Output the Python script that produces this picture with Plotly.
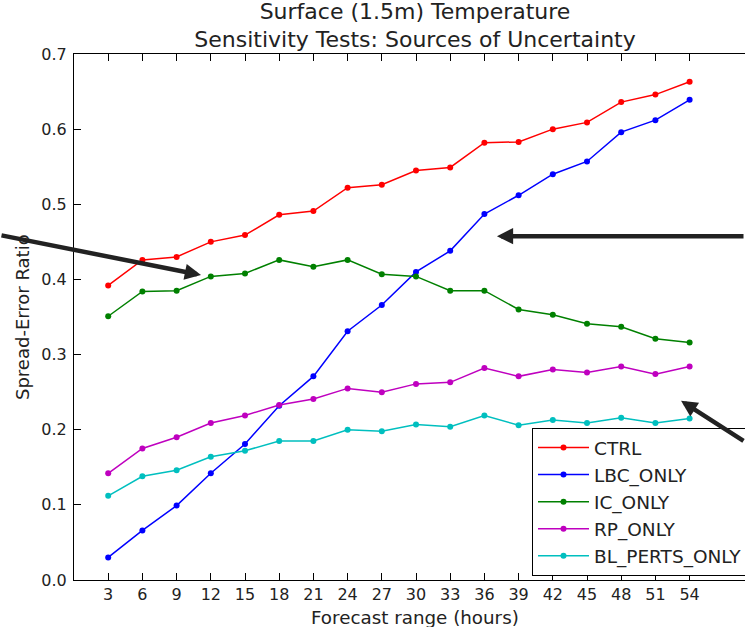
import plotly.graph_objects as go

# Forecast lead times (hours)
lead_hours = [3, 6, 9, 12, 15, 18, 21, 24, 27, 30, 33, 36, 39, 42, 45, 48, 51, 54]

# Spread-error ratio for each sensitivity experiment
ctrl = [0.392, 0.426, 0.430, 0.450, 0.459, 0.486, 0.491, 0.522, 0.526, 0.545,
        0.549, 0.582, 0.583, 0.600, 0.609, 0.636, 0.646, 0.663]
lbc_only = [0.030, 0.066, 0.099, 0.142, 0.181, 0.232, 0.271, 0.331, 0.366, 0.410,
            0.438, 0.487, 0.512, 0.540, 0.557, 0.596, 0.612, 0.639]
ic_only = [0.351, 0.384, 0.385, 0.404, 0.408, 0.426, 0.417, 0.426, 0.407, 0.404,
           0.385, 0.385, 0.360, 0.353, 0.341, 0.337, 0.321, 0.316]
rp_only = [0.142, 0.175, 0.190, 0.209, 0.219, 0.233, 0.241, 0.255, 0.250, 0.261,
           0.263, 0.282, 0.271, 0.280, 0.276, 0.284, 0.274, 0.284]
bl_perts_only = [0.112, 0.138, 0.146, 0.164, 0.172, 0.185, 0.185, 0.200, 0.198, 0.207,
                 0.204, 0.219, 0.206, 0.213, 0.209, 0.216, 0.209, 0.215]

series_names = ["CTRL", "LBC_ONLY", "IC_ONLY", "RP_ONLY", "BL_PERTS_ONLY"]
series_values = [ctrl, lbc_only, ic_only, rp_only, bl_perts_only]
series_colors = ["#ff0000", "#0000ff", "#008000", "#bf00bf", "#00bfbf"]

y_ticks = [0.0, 0.1, 0.2, 0.3, 0.4, 0.5, 0.6, 0.7]

W, H = 745, 627
L, R, T, B = 74, 0, 54, 47
plot_w = W - L - R
plot_h = H - T - B
px_per_hour = 11.4
x_max = plot_w / px_per_hour

fig = go.Figure()
for name, vals, col in zip(series_names, series_values, series_colors):
    fig.add_trace(go.Scatter(
        x=lead_hours, y=vals, name=name, mode="lines+markers",
        line=dict(color=col, width=1.5),
        marker=dict(color=col, size=6),
    ))

font_family = "DejaVu Sans"
text_color = "#222222"

def px_to_paper_x(px):
    return (px - L) / plot_w

def px_to_paper_y(py):
    return (H - B - py) / plot_h

# Pointer arrows highlighting features of the curves
arrow_style = dict(showarrow=True, text="", arrowcolor="#222222", arrowwidth=4.5,
                   arrowhead=2, arrowsize=0.72, standoff=0, startstandoff=0,
                   axref="pixel", ayref="pixel")
annotations = [
    dict(x=11.14, y=0.4058, xref="x", yref="y", ax=-205, ay=-40, **arrow_style),
    dict(x=37.1, y=0.4576, xref="x", yref="y", ax=270, ay=0, **arrow_style),
    dict(x=53.25, y=0.2384, xref="x", yref="y", ax=84, ay=41, **arrow_style),
    # axis titles
    dict(x=px_to_paper_x(415), y=px_to_paper_y(617), xref="paper", yref="paper",
         text="Forecast range (hours)", showarrow=False, xanchor="center",
         yanchor="middle", font=dict(family=font_family, size=18.3, color=text_color)),
    dict(x=px_to_paper_x(22), y=px_to_paper_y(317), xref="paper", yref="paper",
         text="Spread-Error Ratio", showarrow=False, textangle=-90,
         xanchor="center", yanchor="middle",
         font=dict(family=font_family, size=18, color=text_color)),
]

fig.update_layout(
    width=W, height=H,
    margin=dict(l=L, r=R, t=T, b=B, autoexpand=False),
    paper_bgcolor="white", plot_bgcolor="white",
    font=dict(family=font_family, color=text_color),
    title=dict(
        text="Surface (1.5m) Temperature<br>Sensitivity Tests: Sources of Uncertainty",
        x=415 / W, xref="container", xanchor="center",
        y=1 - 18.5 / H, yref="container", yanchor="top",
        font=dict(family=font_family, size=22, color=text_color),
    ),
    xaxis=dict(
        range=[0, x_max], tickmode="array", tickvals=lead_hours,
        ticktext=[str(h) for h in lead_hours],
        showgrid=False, zeroline=False, showline=True, linecolor="black",
        linewidth=1, mirror="ticks", ticks="inside", ticklen=7,
        tickcolor="black", tickfont=dict(size=16, color=text_color),
    ),
    yaxis=dict(
        range=[0, 0.7], tickmode="array", tickvals=y_ticks,
        ticktext=[f"{v:.1f}" for v in y_ticks],
        showgrid=False, zeroline=False, showline=True, linecolor="black",
        linewidth=1, ticks="inside", ticklen=7, tickcolor="black",
        ticklabelstandoff=3,
        tickfont=dict(size=16, color=text_color),
    ),
    legend=dict(
        x=px_to_paper_x(532), y=px_to_paper_y(428), xanchor="left", yanchor="top",
        bordercolor="black", borderwidth=1, bgcolor="white",
        font=dict(family=font_family, size=18.5, color=text_color),
        itemwidth=51,
    ),
    annotations=annotations,
    showlegend=True,
)

fig.write_html("out.html")
